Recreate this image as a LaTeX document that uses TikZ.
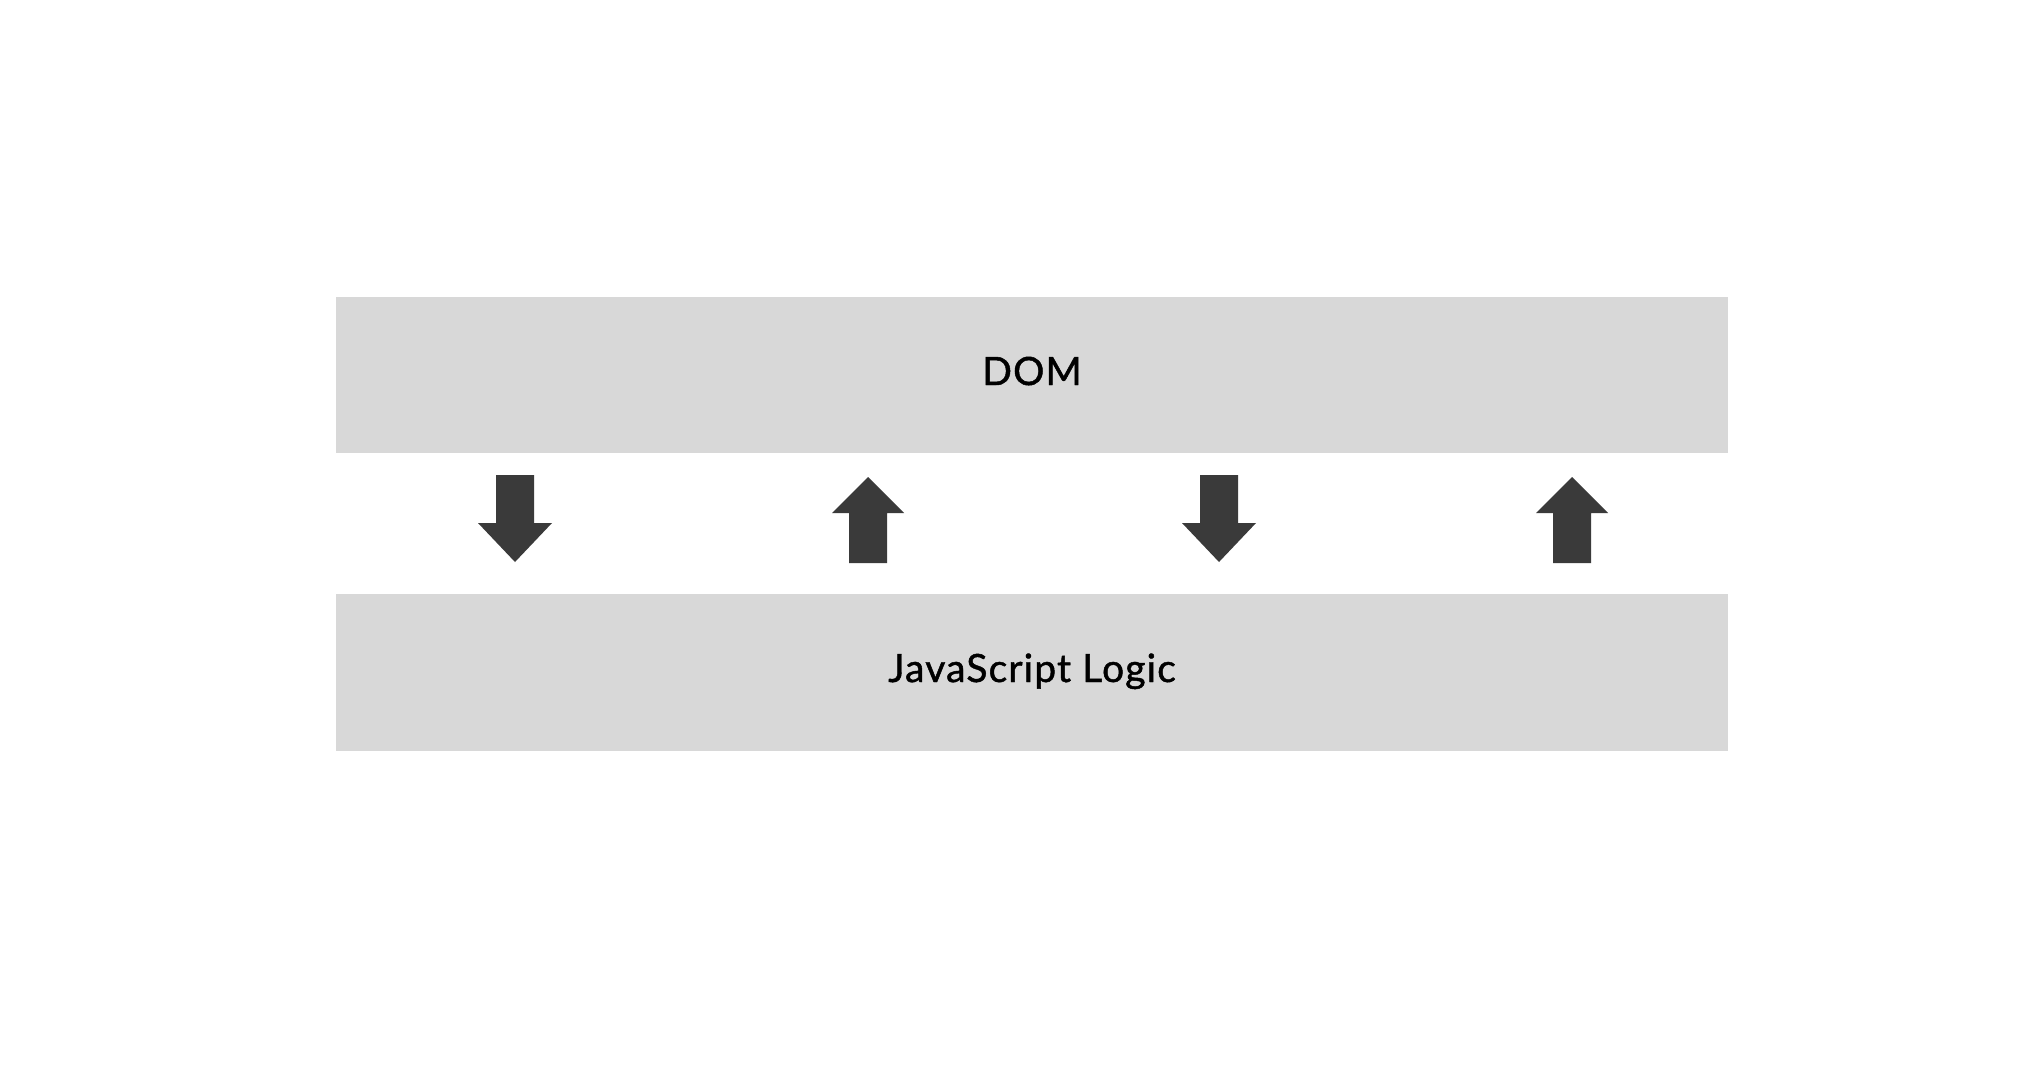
\documentclass[tikz,border=0pt]{standalone}
\usepackage{fontspec}
\setmainfont{Lato}[FakeBold=1.2,LetterSpace=3]
\definecolor{boxgray}{HTML}{D8D8D8}
\definecolor{arrowgray}{HTML}{3A3A3A}
\begin{document}
\begin{tikzpicture}[x=1pt,y=-1pt,
  label text/.style={font=\fontsize{39}{46}\selectfont, text=black, anchor=base, inner sep=0pt},
  blockarrow/.style={fill=arrowgray, draw=none},
  pics/downarr/.style={code={
    \fill[blockarrow] (-19,0) -- (19,0) -- (19,48) -- (37,48) -- (0,87) -- (-37,48) -- (-19,48) -- cycle;}},
  pics/uparr/.style={code={
    \fill[blockarrow] (-19,86) -- (19,86) -- (19,36) -- (36,36) -- (0,0) -- (-36,36) -- (-19,36) -- cycle;}}
]
\useasboundingbox[fill=white] (0,0) rectangle (2044,1076);
\fill[boxgray] (336,297) rectangle (1728,453);
\node[label text] (dom) at (1032,385) {DOM};
\fill[boxgray] (336,594) rectangle (1728,751);
\node[label text] (js) at (1032,682) {JavaScript Logic};
\pic at (515,475) {downarr};
\pic at (868,477) {uparr};
\pic at (1219,475) {downarr};
\pic at (1572,477) {uparr};
\end{tikzpicture}
\end{document}
